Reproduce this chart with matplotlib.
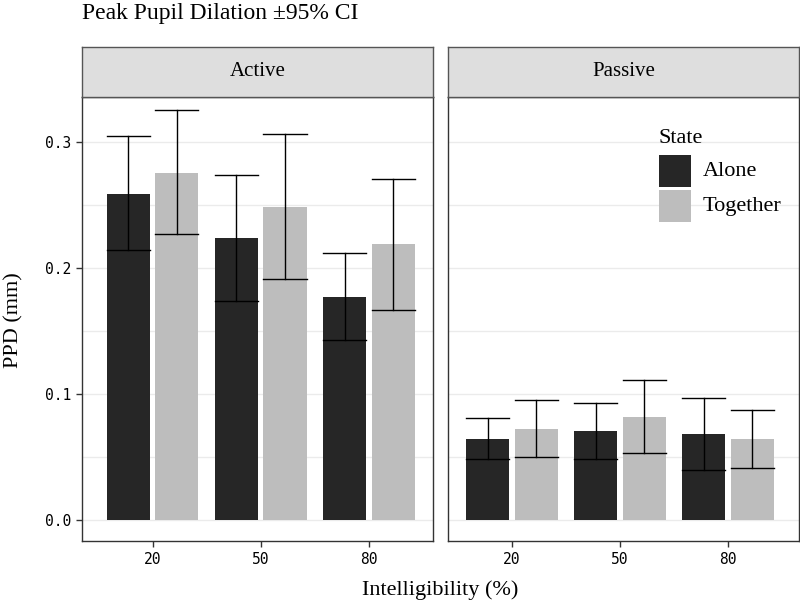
import numpy as np
import matplotlib
matplotlib.use("Agg")
import matplotlib.pyplot as plt
from matplotlib.patches import Rectangle

# ---------------- data ----------------
intelligibility = ["20", "50", "80"]
states = ["Alone", "Together"]
panels = ["Active", "Passive"]

active_alone = [0.259, 0.224, 0.177]
active_alone_lo = [0.214, 0.174, 0.143]
active_alone_hi = [0.305, 0.274, 0.212]
active_together = [0.275, 0.248, 0.219]
active_together_lo = [0.227, 0.191, 0.167]
active_together_hi = [0.325, 0.306, 0.271]

passive_alone = [0.064, 0.071, 0.068]
passive_alone_lo = [0.048, 0.048, 0.040]
passive_alone_hi = [0.081, 0.093, 0.097]
passive_together = [0.072, 0.082, 0.064]
passive_together_lo = [0.050, 0.053, 0.041]
passive_together_hi = [0.095, 0.111, 0.087]

colors = {"Alone": "#262626", "Together": "#bdbdbd"}
serif = "Liberation Serif"
mono = "DejaVu Sans Mono"

panel_data = {
    "Active": {"Alone": (active_alone, active_alone_lo, active_alone_hi),
               "Together": (active_together, active_together_lo, active_together_hi)},
    "Passive": {"Alone": (passive_alone, passive_alone_lo, passive_alone_hi),
                "Together": (passive_together, passive_together_lo, passive_together_hi)},
}

W, H = 800, 606
fig = plt.figure(figsize=(W / 100, H / 100), dpi=100)

# panel boxes in pixels (left, right)
panel_px = [(82, 433.3), (447.7, 799)]
xlims = [(0.348, 3.596), (0.404, 3.659)]
pb = 1 - 541 / H
ph = (541 - 97) / H
sh = 50 / H

x = np.arange(1, len(intelligibility) + 1)
offsets = {"Alone": -0.225, "Together": 0.225}
bw = 0.4

for i, name in enumerate(panels):
    l_px, r_px = panel_px[i]
    ax = fig.add_axes([l_px / W, pb, (r_px - l_px) / W, ph])
    for yv in [0.0, 0.05, 0.1, 0.15, 0.2, 0.25, 0.3]:
        ax.axhline(yv, color="#ebebeb", lw=1.0, zorder=0)
    for s in states:
        vals, lo, hi = panel_data[name][s]
        xs = x + offsets[s]
        ax.bar(xs, vals, width=bw, color=colors[s], zorder=2, label=s)
        for xi, l, h in zip(xs, lo, hi):
            ax.plot([xi, xi], [l, h], color="black", lw=1.0, zorder=3)
            ax.plot([xi - bw / 2, xi + bw / 2], [l, l], color="black", lw=1.0, zorder=3)
            ax.plot([xi - bw / 2, xi + bw / 2], [h, h], color="black", lw=1.0, zorder=3)
    ax.set_xlim(*xlims[i])
    ax.set_ylim(-0.0167, 0.3357)
    ax.set_xticks(x)
    ax.set_xticklabels(intelligibility, fontfamily=mono, fontsize=10.5)
    ax.set_yticks([0.0, 0.1, 0.2, 0.3])
    ax.set_yticklabels(["0.0", "0.1", "0.2", "0.3"], fontfamily=mono, fontsize=10.5)
    ax.tick_params(length=4, width=1, color="#333333", pad=4)
    if i == 1:
        ax.tick_params(axis="y", left=False, labelleft=False)
    for sp in ax.spines.values():
        sp.set_color("#333333")
        sp.set_linewidth(1.0)

    # facet strip
    st = fig.add_axes([l_px / W, pb + ph, (r_px - l_px) / W, sh])
    st.set_facecolor("#dedede")
    st.set_xticks([])
    st.set_yticks([])
    for sp in st.spines.values():
        sp.set_color("#555555")
        sp.set_linewidth(1.0)
    st.text(0.5, 0.5, name, ha="center", va="center", fontfamily=serif, fontsize=15,
            transform=st.transAxes)

# legend drawn by hand inside the Passive panel (pixel positions)
fig.text(658 / W, 1 - 143 / H, "State", ha="left", va="baseline",
         fontfamily=serif, fontsize=16)
box_tops = [155, 190]
for s, top in zip(states, box_tops):
    fig.add_artist(Rectangle((659 / W, 1 - (top + 32) / H), 32 / W, 32 / H,
                             facecolor=colors[s], edgecolor="none",
                             transform=fig.transFigure))
    fig.text(703 / W, 1 - (top + 21.5) / H, s, ha="left", va="baseline",
             fontfamily=serif, fontsize=16)

fig.text(82 / W, 1 - 14 / H, "Peak Pupil Dilation \u00b195% CI", ha="left", va="center",
         fontfamily=serif, fontsize=17)
fig.text(440 / W, 1 - 590 / H, "Intelligibility (%)", ha="center", va="center",
         fontfamily=serif, fontsize=16)
fig.text(14 / W, 1 - 320 / H, "PPD (mm)", ha="center", va="center", rotation=90,
         fontfamily=serif, fontsize=16)

fig.savefig("out.png", dpi=100)
